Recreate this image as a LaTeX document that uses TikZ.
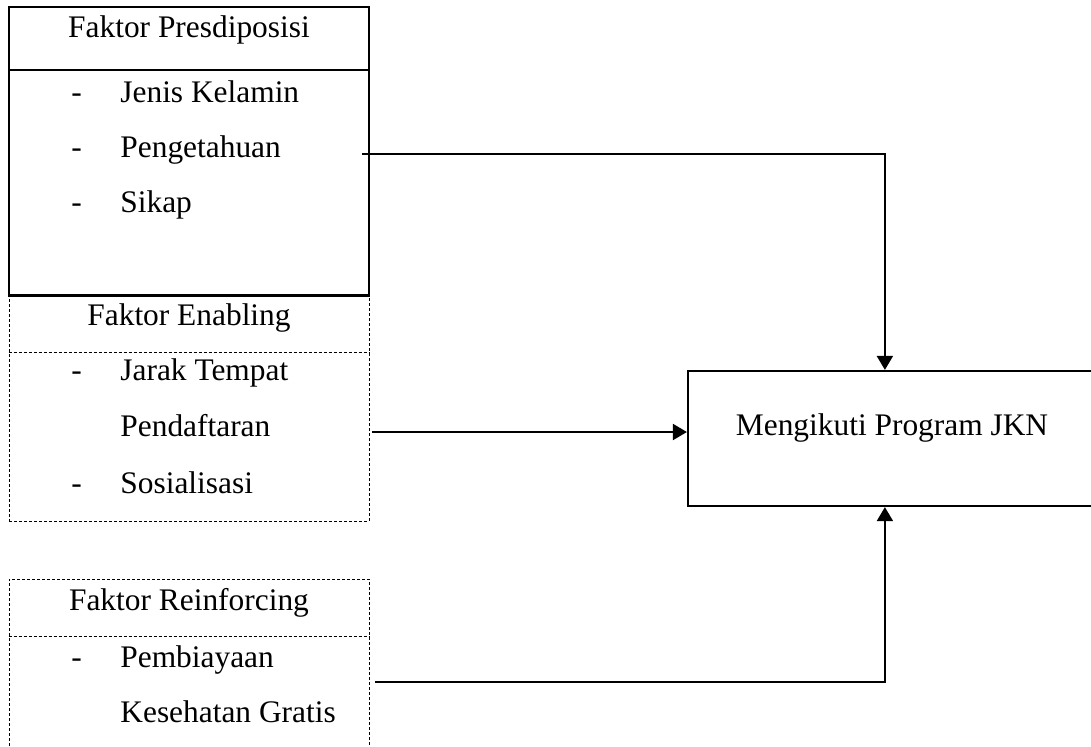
\documentclass[tikz,border=0pt]{standalone}
\usepackage{fontspec}
\setmainfont{Liberation Serif}
\usepackage{tikz}
\usetikzlibrary{arrows.meta,positioning,calc}

\tikzset{
  solidbox/.style={draw,line width=1.15pt,minimum width=180pt,inner sep=0pt},
  dashbox/.style={draw,line width=0.5pt,dash pattern=on 1.5pt off 1pt,minimum width=180pt,inner sep=0pt},
  outbox/.style={draw,line width=1.1pt,inner sep=0pt},
  item/.style={anchor=base west,inner sep=0pt},
  title/.style={anchor=base,inner sep=0pt},
  arrowline/.style={line width=1pt,-{Triangle[length=7pt,width=8pt]}}
}

\begin{document}
\begin{tikzpicture}[x=0.5pt,y=-0.5pt,font=\fontsize{15.7}{19}\selectfont]
            \useasboundingbox (0,0) rectangle (1091,746);
            % left boxes
            \node[solidbox,minimum height=144pt] (pred) at (189,151) {};
            \node[dashbox,minimum height=113pt] (enab) at (189,408) {};
            \node[dashbox,minimum height=110.5pt] (reinf) at (189,689.5) {};
            \draw[line width=0.85pt] ([yshift=-32pt]pred.north west) -- ([yshift=-32pt]pred.north east);
            \draw[line width=0.5pt,dash pattern=on 1.5pt off 1pt] ([yshift=-29pt]enab.north west) -- ([yshift=-29pt]enab.north east);
            \draw[line width=0.5pt,dash pattern=on 1.5pt off 1pt] ([yshift=-29pt]reinf.north west) -- ([yshift=-29pt]reinf.north east);
            \draw[line width=1.15pt] (pred.south west) -- (pred.south east);
            % titles
            \node[title] (predT) at (189,37) {Faktor Presdiposisi};
            \node[title] (enabT) at (189,325) {Faktor Enabling};
            \node[title] (reinfT) at (189,610) {Faktor Reinforcing};
            % items
            \foreach \nm/\yy/\txt in {jenis/102/Jenis Kelamin,tahu/157/Pengetahuan,sikap/212/Sikap,jarak/380/Jarak Tempat,daftar/436/Pendaftaran,sosial/493/Sosialisasi,biaya/667/Pembiayaan,gratis/722/Kesehatan Gratis} {
                    \node[item] (\nm) at (120,\yy) {\txt};
                }
            \foreach \nm/\yy in {dJenis/102,dTahu/157,dSikap/212,dJarak/380,dSosial/493,dBiaya/667} {
                    \node[item] (\nm) at (71,\yy) {-};
                }
            % outcome (right side runs off the page)
            \node[outbox,minimum width=240pt,minimum height=67.5pt] (jkn) at (928,438.5) {};
            \node[title] (jknT) at (892,435) {Mengikuti Program JKN};
            % connectors
            \coordinate (srcP) at (362,154);
            \coordinate (srcE) at (372,432);
            \coordinate (srcR) at (375,682);
            \draw[arrowline] (srcP) -| ([xshift=99pt]jkn.north west);
            \draw[arrowline] (srcE) -- (srcE -| jkn.west);
            \draw[arrowline] (srcR) -| ([xshift=99pt]jkn.south west);
        \end{tikzpicture}
\end{document}
